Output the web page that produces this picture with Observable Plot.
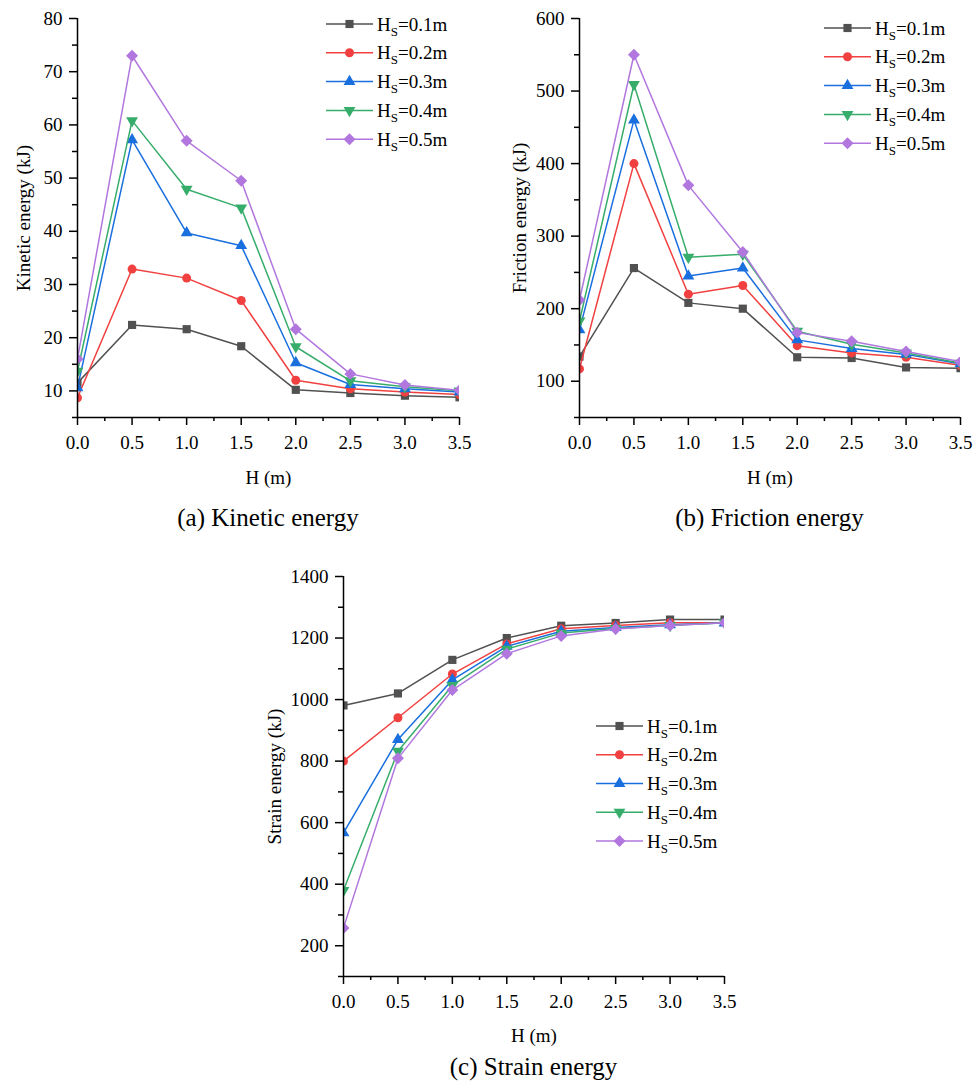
<!DOCTYPE html>
<html><head><meta charset="utf-8">
<script src="https://cdn.jsdelivr.net/npm/d3@7"></script>
<script src="https://cdn.jsdelivr.net/npm/@observablehq/plot@0.6"></script>
<style>
body{margin:0;background:#fff;}
#page{position:relative;width:977px;height:1084px;background:#fff;font-family:"Liberation Serif","Times New Roman",serif;color:#000;overflow:hidden}
.panel{position:absolute}
.panel svg{overflow:visible;font-family:"Liberation Serif","Times New Roman",serif !important;font-size:19px !important}
.panel svg text{font-family:"Liberation Serif","Times New Roman",serif !important}
.caption{position:absolute;font-size:25px;text-align:center;line-height:30px;white-space:nowrap}
.legend{position:absolute;overflow:visible}
</style></head><body><div id="page"></div>
<script>
// ---------- data ----------
const H = [0, 0.5, 1, 1.5, 2, 2.5, 3, 3.5];
const xMinorTicks = [0.25, 0.75, 1.25, 1.75, 2.25, 2.75, 3.25];
const seriesLabels = ["0.1m", "0.2m", "0.3m", "0.4m", "0.5m"];

const kinetic = [
  [11.5, 22.4, 21.6, 18.4, 10.2, 9.6, 9.1, 8.8],
  [8.7, 32.9, 31.2, 27.0, 12.0, 10.4, 9.8, 9.3],
  [10.6, 57.2, 39.7, 37.3, 15.3, 11.2, 10.4, 9.8],
  [13.7, 60.8, 47.9, 44.4, 18.3, 11.9, 10.8, 10.0],
  [16.0, 73.0, 57.0, 49.5, 21.6, 13.2, 11.1, 10.1]
];
const kineticTicks = [10, 20, 30, 40, 50, 60, 70, 80];
const kineticMinor = [5, 15, 25, 35, 45, 55, 65, 75];

const friction = [
  [134, 256, 208, 200, 133, 132, 119, 118],
  [117, 400, 220, 232, 149, 139, 133, 122],
  [171, 460, 245, 256, 157, 145, 137, 124],
  [183, 509, 271, 275, 169, 151, 139, 125],
  [212, 550, 370, 278, 167, 155, 141, 127]
];
const frictionTicks = [100, 200, 300, 400, 500, 600];
const frictionMinor = [50, 150, 250, 350, 450, 550];

const strain = [
  [981, 1020, 1129, 1200, 1240, 1249, 1260, 1260],
  [800, 941, 1083, 1181, 1230, 1241, 1250, 1250],
  [567, 870, 1064, 1173, 1222, 1234, 1243, 1249],
  [380, 832, 1046, 1164, 1216, 1231, 1241, 1250],
  [258, 809, 1031, 1149, 1207, 1229, 1241, 1250]
];
const strainTicks = [200, 400, 600, 800, 1000, 1200, 1400];
const strainMinor = [100, 300, 500, 700, 900, 1100, 1300];

// ---------- styles ----------
const colors = ["#515151", "#F14040", "#1A6FDF", "#37AD6B", "#B177DE"];
const triangleDown = {
  draw(context, size) {
    const y = Math.sqrt(size / (Math.sqrt(3) * 3));
    context.moveTo(0, y * 2);
    context.lineTo(-Math.sqrt(3) * y, -y);
    context.lineTo(Math.sqrt(3) * y, -y);
    context.closePath();
  }
};
const symbols = [d3.symbolSquare, d3.symbolCircle, d3.symbolTriangle, triangleDown, d3.symbolDiamond2];
const radii = [4.6, 4.5, 4.4, 4.4, 5.4];
const FONT = '"Liberation Serif","Times New Roman",serif';

const page = document.getElementById("page");

function makePanel(values, o) {
  const marks = [];
  values.forEach((s, i) => {
    const d = s.map((v, j) => ({H: H[j], E: v}));
    marks.push(Plot.line(d, {x: "H", y: "E", stroke: colors[i], strokeWidth: 1.5, clip: true}));
    marks.push(Plot.dot(d, {x: "H", y: "E", symbol: symbols[i], fill: colors[i], stroke: "none", r: radii[i], clip: true}));
  });
  marks.push(
    Plot.ruleX([0], {stroke: "#000", strokeWidth: 1.5}),
    Plot.ruleY([o.yDomain[0]], {stroke: "#000", strokeWidth: 1.5}),
    Plot.axisX({ticks: H, tickSize: 8, tickPadding: 10, strokeWidth: 1.5, tickFormat: d3.format(".1f"),
      fontSize: 19, label: "H (m)", labelAnchor: "center", labelOffset: o.xLabelOffset, labelArrow: "none"}),
    Plot.axisX({ticks: xMinorTicks, tickSize: 4, strokeWidth: 1.5, tickFormat: () => "", label: null}),
    Plot.axisY({ticks: o.yTicks, tickSize: 8, tickPadding: 7, strokeWidth: 1.5, tickFormat: d => String(d),
      fontSize: 19, label: o.yLabel, labelAnchor: "center", labelOffset: o.yLabelOffset, labelArrow: "none"}),
    Plot.axisY({ticks: o.yMinor, tickSize: 5, strokeWidth: 1.5, tickFormat: () => "", label: null})
  );
  const chart = Plot.plot({
    width: o.width, height: o.height,
    marginLeft: o.marginLeft, marginRight: o.marginRight, marginTop: o.marginTop, marginBottom: o.marginBottom,
    x: {domain: [0, 3.5]},
    y: {domain: o.yDomain},
    style: {fontFamily: FONT, fontSize: "19px", color: "#000", background: "transparent", overflow: "visible"},
    marks
  });
  const div = document.createElement("div");
  div.className = "panel";
  div.style.left = o.left + "px";
  div.style.top = o.top + "px";
  div.appendChild(chart);
  page.appendChild(div);

  // caption
  const cap = document.createElement("div");
  cap.className = "caption";
  cap.textContent = o.caption;
  cap.style.left = (o.left + o.marginLeft) + "px";
  cap.style.width = (o.width - o.marginLeft - o.marginRight) + "px";
  cap.style.top = o.captionTop + "px";
  page.appendChild(cap);

  // legend
  const lg = o.legend;
  const svg = d3.create("svg")
    .attr("class", "legend")
    .attr("width", 160).attr("height", 160)
    .style("left", lg.left + "px").style("top", lg.top + "px")
    .style("font-family", FONT);
  seriesLabels.forEach((lab, i) => {
    const y = 12 + i * lg.step;
    const g = svg.append("g").attr("transform", `translate(0,${y})`);
    g.append("line").attr("x1", 0).attr("x2", 47).attr("y1", 0).attr("y2", 0)
      .attr("stroke", colors[i]).attr("stroke-width", 1.5);
    g.append("path").attr("transform", "translate(23.5,0)")
      .attr("d", d3.symbol(symbols[i], Math.PI * radii[i] * radii[i])())
      .attr("fill", colors[i]);
    const t = g.append("text").attr("x", 51).attr("y", 6.5).attr("font-size", 19).attr("fill", "#000");
    t.append("tspan").text("H");
    t.append("tspan").attr("font-size", 13).attr("dy", 5).text("S");
    t.append("tspan").attr("dy", -5).text("=" + lab);
  });
  page.appendChild(svg.node());
}

makePanel(kinetic, {
  left: 0, top: 0, width: 480, height: 500,
  marginLeft: 77, marginRight: 21, marginTop: 18, marginBottom: 83,
  yDomain: [5, 80], yTicks: kineticTicks, yMinor: kineticMinor,
  yLabel: "Kinetic energy (kJ)", yLabelOffset: 61, xLabelOffset: 66,
  caption: "(a) Kinetic energy", captionTop: 503,
  legend: {left: 326, top: 12, step: 28.8}
});

makePanel(friction, {
  left: 490, top: 0, width: 487, height: 500,
  marginLeft: 89, marginRight: 17, marginTop: 18, marginBottom: 83,
  yDomain: [50, 600], yTicks: frictionTicks, yMinor: frictionMinor,
  yLabel: "Friction energy (kJ)", yLabelOffset: 67, xLabelOffset: 66,
  caption: "(b) Friction energy", captionTop: 503,
  legend: {left: 824, top: 16, step: 28.8}
});

makePanel(strain, {
  left: 260, top: 558, width: 484, height: 500,
  marginLeft: 83, marginRight: 20, marginTop: 18, marginBottom: 82,
  yDomain: [100, 1400], yTicks: strainTicks, yMinor: strainMinor,
  yLabel: "Strain energy (kJ)", yLabelOffset: 76, xLabelOffset: 65,
  caption: "(c) Strain energy", captionTop: 1052,
  legend: {left: 596, top: 714, step: 28.75}
});
</script>
</body></html>
